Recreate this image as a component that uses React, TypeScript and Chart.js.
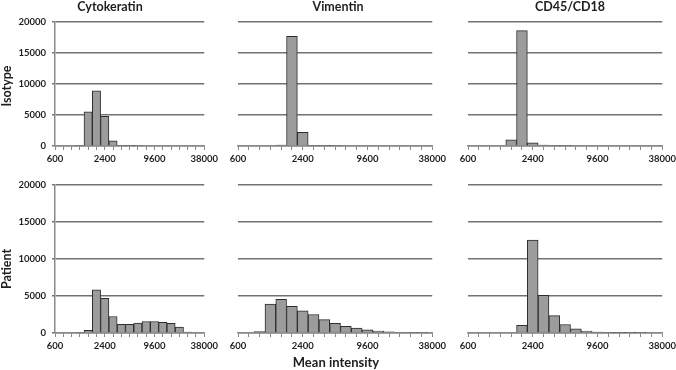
import React, { useEffect, useRef } from 'react';
import { Chart, registerables } from 'chart.js';

Chart.register(...registerables);

// Intensity bins (1/3-octave steps) on the category axis
const intensityBins = ['600', '756', '952', '1200', '1512', '1905', '2400', '3024', '3810', '4800', '6048', '7620', '9600', '12096', '15240', '19200', '24192', '30480', '38000'];
const labeledTicks = ['600', '2400', '9600', '38000'];
const yTicks = [0, 5000, 10000, 15000, 20000];

const columnTitles = ['Cytokeratin', 'Vimentin', 'CD45/CD18'];
const rowTitles = ['Isotype', 'Patient'];
const xAxisTitle = 'Mean intensity';

const cytokeratinIsotype = [0, 0, 0, 100, 5500, 8900, 4800, 850, 100, 60, 30, 0, 0, 0, 0, 0, 0, 0, 0];
const vimentinIsotype = [0, 0, 0, 0, 150, 17700, 2200, 100, 60, 30, 0, 0, 0, 0, 0, 0, 0, 0, 0];
const cd45Isotype = [0, 0, 0, 0, 1000, 18600, 500, 150, 80, 40, 0, 0, 0, 0, 0, 0, 0, 0, 0];
const cytokeratinPatient = [0, 0, 0, 80, 370, 5850, 4700, 2230, 1160, 1160, 1340, 1560, 1560, 1430, 1300, 800, 130, 0, 0];
const vimentinPatient = [0, 0, 200, 3900, 4550, 3600, 3000, 2500, 1800, 1300, 900, 650, 420, 250, 160, 100, 70, 40, 0];
const cd45Patient = [0, 0, 0, 0, 0, 1050, 12550, 5100, 2350, 1150, 560, 270, 130, 80, 60, 50, 40, 0, 0];

const FONT = 'Lato, "Open Sans", sans-serif';
const TEXT = '#1e1e1e';

const PAD_L = 15;
const PAD_R = 16;
const PAD_T = 16;
const X_H = 22;
const Y_W = 45;

type PanelProps = {
  data: number[];
  left: number;
  top: number;
  width: number;
  height: number;
  showY: boolean;
};

function Panel({ data, left, top, width, height, showY }: PanelProps) {
  const ref = useRef<HTMLCanvasElement | null>(null);
  const leftMargin = showY ? Y_W : PAD_L;
  const cw = leftMargin + width + PAD_R;
  const ch = PAD_T + height + X_H;

  useEffect(() => {
    if (!ref.current) return;
    const chart = new Chart(ref.current, {
      type: 'bar',
      data: {
        labels: intensityBins,
        datasets: [
          {
            data,
            backgroundColor: '#9c9c9c',
            borderColor: '#2c2c2c',
            borderWidth: 1,
            barPercentage: 1,
            categoryPercentage: 1,
            borderSkipped: 'start',
          },
        ],
      },
      options: {
        animation: false,
        responsive: false,
        maintainAspectRatio: false,
        devicePixelRatio: 1,
        layout: { padding: { left: showY ? 0 : PAD_L, right: PAD_R, top: PAD_T, bottom: 0 } },
        plugins: { legend: { display: false }, tooltip: { enabled: false } },
        scales: {
          x: {
            type: 'category',
            offset: false,
            grid: {
              offset: false,
              display: true,
              drawOnChartArea: false,
              drawTicks: true,
              tickLength: 4,
              color: '#8a8a8a',
              lineWidth: 1,
            },
            border: { display: true, color: '#8a8a8a', width: 1.5 },
            ticks: {
              autoSkip: false,
              maxRotation: 0,
              minRotation: 0,
              padding: 3,
              color: TEXT,
              font: { family: FONT, size: 9.5, weight: 'bold' },
              callback: function (this: any, value: any) {
                const l = this.getLabelForValue(value);
                return labeledTicks.includes(l) ? l : '';
              },
            },
            afterFit: (s: any) => {
              s.height = X_H;
            },
          },
          y: {
            min: 0,
            max: 20000,
            afterBuildTicks: (s: any) => {
              s.ticks = yTicks.map((v) => ({ value: v }));
            },
            ticks: {
              display: showY,
              padding: 6,
              color: TEXT,
              font: { family: FONT, size: 9.5, weight: 'bold' },
              callback: (v: any) => String(v),
            },
            grid: { color: '#727272', lineWidth: 1.5, drawTicks: showY, tickLength: 3 },
            border: { display: showY, color: '#8a8a8a', width: 1.5 },
            afterFit: (s: any) => {
              s.width = showY ? Y_W : 0;
            },
          },
        },
      },
    } as any);
    return () => chart.destroy();
  }, [data, showY]);

  return (
    <canvas
      ref={ref}
      width={cw}
      height={ch}
      style={{ position: 'absolute', left: left - leftMargin, top: top - PAD_T, width: cw, height: ch }}
    />
  );
}

const colAreas = [
  { left: 55, width: 150 },
  { left: 238, width: 195 },
  { left: 468, width: 195 },
];
const rowAreas = [
  { top: 22, height: 124 },
  { top: 185, height: 148 },
];
const panelData = [
  [cytokeratinIsotype, vimentinIsotype, cd45Isotype],
  [cytokeratinPatient, vimentinPatient, cd45Patient],
];
const titleCenters = [110, 338, 570];
const rowLabelCenters = [86, 269];

export default function App() {
  return (
    <div
      style={{
        position: 'absolute',
        left: 0,
        top: 0,
        width: 676,
        height: 370,
        background: '#fff',
        overflow: 'hidden',
        fontFamily: FONT,
        color: TEXT,
      }}
    >
      {panelData.map((row, r) =>
        row.map((d, c) => (
          <Panel
            key={`${r}-${c}`}
            data={d}
            left={colAreas[c].left}
            top={rowAreas[r].top}
            width={colAreas[c].width}
            height={rowAreas[r].height}
            showY={c === 0}
          />
        ))
      )}
      {columnTitles.map((t, i) => (
        <div
          key={t}
          style={{
            position: 'absolute',
            left: titleCenters[i] - 60,
            width: 120,
            top: 0,
            textAlign: 'center',
            fontWeight: 'bold',
            fontSize: 12.5,
            lineHeight: '14px',
          }}
        >
          {t}
        </div>
      ))}
      {rowTitles.map((t, i) => (
        <div
          key={t}
          style={{
            position: 'absolute',
            left: 7 - 40,
            top: rowLabelCenters[i] - 7,
            width: 80,
            height: 14,
            lineHeight: '14px',
            textAlign: 'center',
            fontWeight: 'bold',
            fontSize: 12.5,
            transform: 'rotate(-90deg)',
          }}
        >
          {t}
        </div>
      ))}
      <div
        style={{
          position: 'absolute',
          left: 336 - 80,
          width: 160,
          top: 355,
          textAlign: 'center',
          fontWeight: 'bold',
          fontSize: 13,
          lineHeight: '14px',
        }}
      >
        {xAxisTitle}
      </div>
    </div>
  );
}
